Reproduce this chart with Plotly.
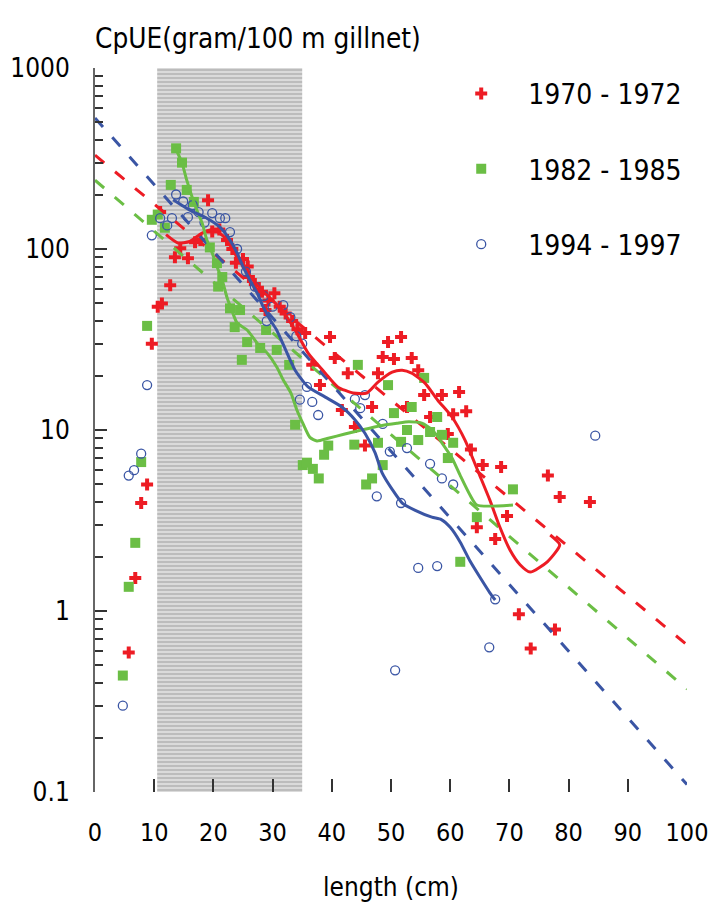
import plotly.graph_objects as go

# ---------------- data ----------------
# 1970 - 1972 (red +)
red_x = [5.7, 6.8, 7.8, 8.8, 9.6,
         10.6, 11.3, 12.7, 11.0, 13.5, 14.4, 15.7, 16.9, 17.8, 19.1, 19.8, 21.0, 22.3, 23.2, 23.8,
         25.0, 26.0, 27.0, 28.2, 29.3, 30.3, 31.2, 32.2, 33.3, 34.2, 28.8, 25.8,
         35.5, 36.7, 38.0, 39.7, 40.5, 41.7, 42.7, 43.9, 45.6, 46.8, 47.8, 48.6, 49.5, 50.5,
         51.7, 52.7, 53.5, 54.6, 55.6, 56.6, 58.6, 59.6, 60.5, 61.5, 62.7, 63.5, 64.5, 65.5,
         67.6, 68.6, 69.6, 71.6, 73.6, 76.5, 77.7, 78.5, 83.6]
red_y = [0.59, 1.52, 3.95, 5.0, 30,
         48, 50, 63, 160, 90, 101, 89, 109, 112, 186, 125, 128, 112, 100, 84,
         88, 70, 64, 58, 52, 57, 48, 44, 40, 36, 46, 80,
         34.4, 22.9, 17.7, 32.6, 25, 12.9, 20.6, 10.4, 8.2, 13.4, 20.6, 25.3, 30.6, 24.7,
         32.6, 13.4, 25, 21.4, 15.6, 11.8, 15.6, 9.5, 12.2, 16.2, 12.7, 7.8, 2.9, 6.4,
         2.5, 6.25, 3.35, 0.96, 0.62, 5.6, 0.79, 4.26, 4.0]

# 1982 - 1985 (green squares)
green_x = [4.7, 5.7, 6.8, 7.8, 8.8, 9.6,
           10.6, 11.8, 12.8, 13.7, 14.7, 15.5, 16.7, 19.4, 20.6, 21.5, 20.8, 22.8, 24.5, 23.6,
           25.7, 27.9, 24.8, 28.9, 30.7, 32.8, 33.8, 35.1,
           35.8, 36.8, 37.8, 38.7, 39.4, 43.8, 44.4, 45.8, 46.8, 47.8, 48.6, 49.5, 50.5, 51.7,
           52.7, 53.5, 54.6, 55.6, 56.6, 57.8, 58.6, 59.6, 60.5, 61.7, 64.5, 70.6]
green_y = [0.44, 1.36, 2.38, 6.65, 37.6, 145,
           155, 131, 226, 360, 300, 212, 182, 102, 83.5, 70, 62, 47, 46, 37,
           30.6, 28.4, 24.4, 35.7, 27.7, 22.9, 10.7, 6.4,
           6.6, 6.1, 5.4, 7.3, 8.2, 8.3, 22.9, 5.0, 5.4, 8.5, 6.4, 17.7, 12.4, 8.6,
           10.0, 13.4, 8.8, 19.4, 9.75, 11.8, 9.4, 7.0, 8.5, 1.87, 3.3, 4.7]

# 1994 - 1997 (blue open circles)
blue_x = [4.7, 5.7, 6.6, 7.8, 8.8, 9.6,
          11.0, 12.2, 13.0, 13.7, 14.9, 15.7, 16.5, 17.5, 18.5, 19.8, 21.1, 22.0, 22.8, 24.0,
          25.5, 27.0, 28.5, 30.0, 31.8, 33.0, 34.0, 29.0,
          34.6, 35.0, 35.8, 36.7, 37.7, 43.9, 44.8, 45.6, 47.6, 48.6, 49.8, 50.7, 51.7, 52.7,
          54.6, 56.6, 57.8, 58.6, 60.5, 66.6, 67.6, 84.5]
blue_y = [0.30, 5.6, 6.0, 7.4, 17.7, 119,
          148, 135, 148, 200, 183, 150, 175, 160, 140, 158, 148, 148, 124, 100,
          75, 62, 55, 48, 49, 42, 33, 40,
          14.7, 30, 17.3, 14.3, 12.1, 14.8, 13.2, 15.6, 4.3, 10.8, 7.6, 0.47, 3.95, 7.95,
          1.73, 6.5, 1.77, 5.4, 5.0, 0.63, 1.16, 9.3]

# smoothed curves (solid)
red_smooth_x = [12, 14, 16, 18, 20, 22, 24, 26, 28, 30, 32, 33.8, 36.0, 38.9, 41.0, 43.6, 45.9,
                47.8, 50.2, 51.9, 53.5, 55.7, 57.9, 60.3, 62.5, 65.0, 66.7, 68.4, 70.1, 71.8,
                73.5, 76.4, 78.5, 76.9]
red_smooth_y = [120, 108, 110, 122, 128, 115, 90, 72, 60, 52, 44, 35.7, 26.6, 20.6, 17.3, 16.0, 16.0,
                18.4, 20.9, 21.4, 20.6, 18.2, 14.6, 11.8, 8.8, 5.6, 4.1, 2.9, 2.17, 1.8,
                1.64, 1.87, 2.32, 2.63]

green_smooth_x = [13.5, 14.7, 15.5, 16.4, 17.2, 18.1, 18.9, 19.8, 20.6, 21.5, 22.3, 23.1, 24.0,
                  25.7, 27.4, 29.1, 30.7, 31.8, 33.1, 34.1, 35.1, 36.3, 37.5, 39.4, 42.2, 45.0,
                  48.5, 51.0, 53.0, 55.2, 57.0, 58.6, 60.3, 61.7, 63.3, 64.5, 70.6]
green_smooth_y = [366, 299, 240, 194, 164, 139, 112, 95, 80, 67, 54, 46, 39,
                  35.7, 30.2, 26.6, 22.3, 18.9, 16.0, 12.9, 10.9, 9.1, 8.7, 9.0, 9.5, 10.0,
                  10.6, 10.9, 11.1, 10.9, 10.0, 8.5, 7.0, 5.6, 4.4, 3.85, 3.85]

blue_smooth_x = [13.2, 16.0, 18.9, 21.1, 22.8, 24.0, 25.0, 26.2, 27.4, 28.4, 29.6, 30.7, 33.8,
                 36.0, 38.9, 41.7, 43.9, 45.6, 47.3, 48.5, 50.2, 51.9, 54.1, 56.9, 58.5, 60.0,
                 61.7, 63.3, 65.0, 66.7, 67.6]
blue_smooth_y = [187, 164, 148, 132, 112, 95, 80, 67, 57, 48, 40.5, 35.6, 21.4,
                 17.3, 15.2, 13.4, 11.4, 9.6, 7.5, 5.8, 4.7, 3.95, 3.6, 3.3, 3.2, 2.9,
                 2.4, 1.9, 1.54, 1.26, 1.15]

# regression trends (dashed), evaluated at length 0 and 100
trend_x = [0, 100]
red_trend_y = [330, 0.65]
green_trend_y = [240, 0.37]
blue_trend_y = [530, 0.11]

# shaded (selective) length range and axis extent
shade_x = [10.5, 35]
y_extent = [0.1, 1000]

RED = "#ED1C24"
GREEN = "#6BBE45"
BLUE = "#3A55A4"
FONT = "DejaVu Sans Condensed"

fig = go.Figure()

fig.add_trace(go.Scatter(
    x=[shade_x[0], shade_x[1], shade_x[1], shade_x[0], shade_x[0]],
    y=[y_extent[0], y_extent[0], y_extent[1], y_extent[1], y_extent[0]],
    mode="lines", fill="toself", line=dict(width=0),
    fillcolor="rgba(0,0,0,0)",
    fillpattern=dict(shape="-", fgcolor="#969696", bgcolor="#dadada", size=4, solidity=0.45),
    showlegend=False, hoverinfo="skip"))

fig.add_trace(go.Scatter(x=red_x, y=red_y, mode="markers", name="1970 - 1972",
                         legendgroup="a",
                         marker=dict(symbol="cross", size=10, color=RED, line=dict(width=0))))
fig.add_trace(go.Scatter(x=green_x, y=green_y, mode="markers", name="1982 - 1985",
                         legendgroup="b",
                         marker=dict(symbol="square", size=10, color=GREEN, line=dict(width=0))))
fig.add_trace(go.Scatter(x=blue_x, y=blue_y, mode="markers", name="1994 - 1997",
                         legendgroup="c",
                         marker=dict(symbol="circle-open", size=9, color=BLUE, line=dict(width=1.3))))

for ty, c in [(red_trend_y, RED), (green_trend_y, GREEN), (blue_trend_y, BLUE)]:
    fig.add_trace(go.Scatter(x=trend_x, y=ty, mode="lines", showlegend=False,
                             line=dict(color=c, width=3, dash="12px,14px")))

for sx, sy, c in [(red_smooth_x, red_smooth_y, RED), (green_smooth_x, green_smooth_y, GREEN),
                  (blue_smooth_x, blue_smooth_y, BLUE)]:
    fig.add_trace(go.Scatter(x=sx, y=sy, mode="lines", showlegend=False,
                             line=dict(color=c, width=3, shape="spline", smoothing=0.6)))

major = [0.1, 1, 10, 100, 1000]
minor_vals = [k * 10 ** e for e in range(-1, 3) for k in range(2, 10)]

fig.update_layout(
    width=711, height=911,
    margin=dict(l=95, r=24, t=68, b=119, autoexpand=False),
    paper_bgcolor="white", plot_bgcolor="white",
    font=dict(family=FONT, size=25, color="black"),
    title=dict(text="CpUE(gram/100 m gillnet)", x=95 / 711, xanchor="left",
               y=1 - 38 / 911, yanchor="middle", font=dict(size=27.7)),
    xaxis=dict(range=[0, 100], showline=False, zeroline=False, showgrid=False,
               automargin=False,
               ticks="inside", ticklen=13, tickwidth=1.5, tickcolor="#333",
               tickvals=list(range(0, 101, 10)), ticklabelstandoff=23,
               tickfont=dict(size=25),
               title=dict(text="length (cm)", standoff=31, font=dict(size=26))),
    yaxis=dict(type="log", range=[-1, 3], showline=True, linecolor="#666", linewidth=2,
               zeroline=False, showgrid=False, automargin=False,
               ticks="inside", ticklen=12, tickwidth=2, tickcolor="#333",
               tickvals=major, ticktext=["0.1", "1", "10", "100", "1000"],
               ticklabelstandoff=18, tickfont=dict(size=26),
               minor=dict(tickvals=minor_vals, ticks="inside", ticklen=8, tickwidth=1.5,
                          tickcolor="#333", showgrid=False)),
    legend=dict(x=0.573, y=0.999, xanchor="left", yanchor="top", bgcolor="rgba(0,0,0,0)",
                font=dict(size=28), itemwidth=84, tracegroupgap=36, traceorder="grouped"),
)

fig.write_html("out.html", config={"displayModeBar": False},
               post_script="document.body.style.margin='0';document.body.style.padding='0';")
